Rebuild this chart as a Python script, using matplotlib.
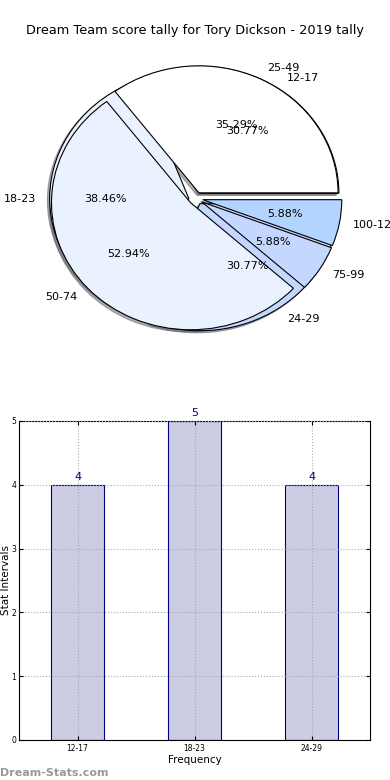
import matplotlib
matplotlib.use('Agg')
import matplotlib.pyplot as plt

# data
title = 'Dream Team score tally for Tory Dickson - 2019 tally'
freq_labels = ['12-17', '18-23', '24-29']
freq_values = [4, 5, 4]
score_labels = ['25-49', '50-74', '75-99', '100-124']
score_values = [6, 9, 1, 1]

pie_colors = ['#ffffff', '#eaf1ff', '#c4d8ff', '#b3d4ff']
shadow_style = {'ox': -0.012, 'oy': -0.012, 'shade': 0.6}

fig = plt.figure(figsize=(3.9, 7.8), dpi=100)
fig.text(0.5, 0.961, title, ha='center', va='center', fontsize=9.3)

# pie chart: two pies drawn on top of each other
ax1 = fig.add_axes([0.056, 0.542, 0.892, 0.407])
ax1.pie(freq_values, labels=freq_labels, colors=pie_colors[:3], autopct='%1.2f%%',
        explode=[0.05] * 3, shadow=shadow_style, startangle=0,
        wedgeprops={'edgecolor': 'black', 'linewidth': 0.8},
        textprops={'fontsize': 8})
ax1.pie(score_values, labels=score_labels, colors=pie_colors, autopct='%1.2f%%',
        explode=[0.05] * 4, shadow=shadow_style, startangle=0,
        wedgeprops={'edgecolor': 'black', 'linewidth': 0.8},
        textprops={'fontsize': 8})
ax1.set_aspect('auto')
ax1.set_xlim(-1.25, 1.25)
ax1.set_ylim(-1.25, 1.25)

# bar chart
ax2 = fig.add_axes([0.049, 0.0513, 0.9, 0.409])
x = range(len(freq_labels))
ax2.bar(x, freq_values, width=0.45, color='#cccce4', edgecolor='#000080', linewidth=0.8, zorder=2)
for xi, v in zip(x, freq_values):
    ax2.text(xi, v + 0.05, str(v), ha='center', va='bottom', color='#000080', fontsize=8)
ax2.set_xlim(-0.5, 2.5)
ax2.set_ylim(0, 5)
ax2.set_xticks(list(x))
ax2.set_xticklabels(freq_labels, fontsize=5.5)
ax2.set_yticks(range(0, 6))
ax2.tick_params(axis='y', labelsize=5.5, direction='in', length=3, pad=2)
ax2.tick_params(axis='x', direction='in', length=3, pad=3)
ax2.tick_params(right=True, top=True, direction='in')
ax2.grid(True, linestyle=':', color='#aaaaaa', linewidth=0.8, zorder=3)
ax2.set_axisbelow(False)
ax2.set_xlabel('Frequency', fontsize=7.5, labelpad=1)
ax2.set_ylabel('Stat Intervals', fontsize=7.5, labelpad=0)

fig.text(0.0, 0.003, 'Dream-Stats.com', fontsize=8, color='#999999', fontweight='bold', ha='left', va='bottom')

fig.savefig('out.png', dpi=100)
